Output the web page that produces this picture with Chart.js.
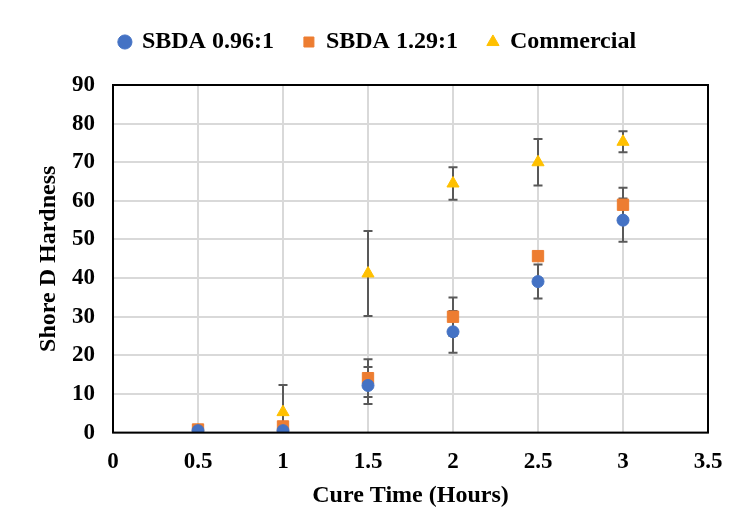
<!DOCTYPE html>
<html>
<head>
<meta charset="utf-8">
<script src="https://cdn.jsdelivr.net/npm/chart.js@4/dist/chart.umd.min.js"></script>
<style>
  html, body { margin: 0; padding: 0; background: #fff; }
  #wrap { width: 735px; height: 527px; }
</style>
</head>
<body>
<div id="wrap"><canvas id="hardnessChart" width="735" height="527"></canvas></div>
<script>
// Temps de cuisson (heures)
const cureTimes = [0.5, 1, 1.5, 2, 2.5, 3];

// Dureté Shore D moyenne et écart-type par formulation
const sbda096 = [0.5, 0.5, 12.2, 26.1, 39.1, 55.0];
const sbda096Err = [0, 0, 4.8, 5.4, 4.4, 5.6];

const sbda129 = [0.8, 1.6, 14.1, 30.0, 45.7, 59.0];
const sbda129Err = [0, 0, 4.9, 5.0, 0, 4.4];

const commercial = [0.5, 5.3, 41.2, 64.5, 70.0, 75.3];
const commercialErr = [0, 7, 11, 4.2, 6, 2.7];

const xTicks = [0, 0.5, 1, 1.5, 2, 2.5, 3, 3.5];
const yTicks = [0, 10, 20, 30, 40, 50, 60, 70, 80, 90];

function toPoints(xs, ys, errs) {
    return xs.map((x, i) => ({ x: x, y: ys[i], err: errs[i] }));
}

// Barres d'erreur verticales dessinées via les échelles
const errorBars = {
    id: 'errorBars',
    beforeDatasetsDraw(chart) {
        const ctx = chart.ctx;
        const xs = chart.scales.x;
        const ys = chart.scales.y;
        ctx.save();
        ctx.strokeStyle = '#595959';
        ctx.lineWidth = 2;
        chart.data.datasets.forEach(ds => {
            ds.data.forEach(p => {
                if (!p.err) return;
                const px = xs.getPixelForValue(p.x);
                const top = ys.getPixelForValue(p.y + p.err);
                const bot = ys.getPixelForValue(Math.max(p.y - p.err, 0));
                ctx.beginPath();
                ctx.moveTo(px, top);
                ctx.lineTo(px, bot);
                ctx.moveTo(px - 4.5, top);
                ctx.lineTo(px + 4.5, top);
                if (p.y - p.err > 0) {
                    ctx.moveTo(px - 4.5, bot);
                    ctx.lineTo(px + 4.5, bot);
                }
                ctx.stroke();
            });
        });
        ctx.restore();
    }
};

// Espace sous la légende et léger décalage à droite
const legendGap = {
    id: 'legendGap',
    beforeInit(chart) {
        const fit = chart.legend.fit;
        chart.legend.fit = function () {
            fit.bind(chart.legend)();
            this.height += 21;
        };
    },
    afterLayout(chart) {
        chart.legend.left += 7;
        chart.legend.right += 7;
    }
};

// Cadre noir autour de la zone de tracé
const plotFrame = {
    id: 'plotFrame',
    afterDraw(chart) {
        const a = chart.chartArea;
        const ctx = chart.ctx;
        ctx.save();
        ctx.strokeStyle = '#000';
        ctx.lineWidth = 2;
        ctx.strokeRect(a.left, a.top, a.right - a.left, a.bottom - a.top);
        ctx.restore();
    }
};

const family = "'Liberation Serif', 'Times New Roman', serif";
const tickFont = { family: family, weight: 'bold', size: 23 };
const titleFont = { family: family, weight: 'bold', size: 24 };

new Chart(document.getElementById('hardnessChart'), {
    type: 'scatter',
    data: {
        datasets: [
            {
                label: 'SBDA 0.96:1',
                data: toPoints(cureTimes, sbda096, sbda096Err),
                pointStyle: 'circle',
                pointRadius: 6,
                backgroundColor: '#4472C4',
                borderColor: '#4472C4'
            },
            {
                label: 'SBDA 1.29:1',
                data: toPoints(cureTimes, sbda129, sbda129Err),
                pointStyle: 'rect',
                pointRadius: 8,
                backgroundColor: '#ED7D31',
                borderColor: '#ED7D31'
            },
            {
                label: 'Commercial',
                data: toPoints(cureTimes, commercial, commercialErr),
                pointStyle: 'triangle',
                pointRadius: 7,
                backgroundColor: '#FFC000',
                borderColor: '#FFC000'
            }
        ]
    },
    options: {
        responsive: false,
        animation: false,
        layout: { padding: { top: 0, right: 27, bottom: 13, left: 34 } },
        plugins: {
            legend: {
                position: 'top',
                labels: {
                    usePointStyle: true,
                    boxWidth: 10,
                    boxHeight: 10,
                    padding: 30,
                    color: '#000',
                    font: titleFont
                }
            },
            tooltip: { enabled: false }
        },
        scales: {
            x: {
                type: 'linear',
                min: 0,
                max: 3.5,
                afterBuildTicks: axis => { axis.ticks = xTicks.map(v => ({ value: v })); },
                afterFit: axis => { axis.paddingRight = 0; },
                grid: { color: '#d9d9d9', lineWidth: 2, drawTicks: false },
                border: { display: false },
                ticks: { color: '#000', font: tickFont, padding: 16, callback: v => String(v) },
                title: { display: true, text: 'Cure Time (Hours)', color: '#000', font: titleFont, padding: { top: -11, bottom: 4 } }
            },
            y: {
                min: 0,
                max: 90,
                afterBuildTicks: axis => { axis.ticks = yTicks.map(v => ({ value: v })); },
                afterFit: axis => { axis.width = 79; },
                grid: { color: '#d9d9d9', lineWidth: 2, drawTicks: false },
                border: { display: false },
                ticks: { color: '#000', font: tickFont, padding: 18 },
                title: { display: true, text: 'Shore D Hardness', color: '#000', font: titleFont, padding: { top: 0, bottom: 0 } }
            }
        }
    },
    plugins: [errorBars, legendGap, plotFrame]
});
</script>
</body>
</html>
